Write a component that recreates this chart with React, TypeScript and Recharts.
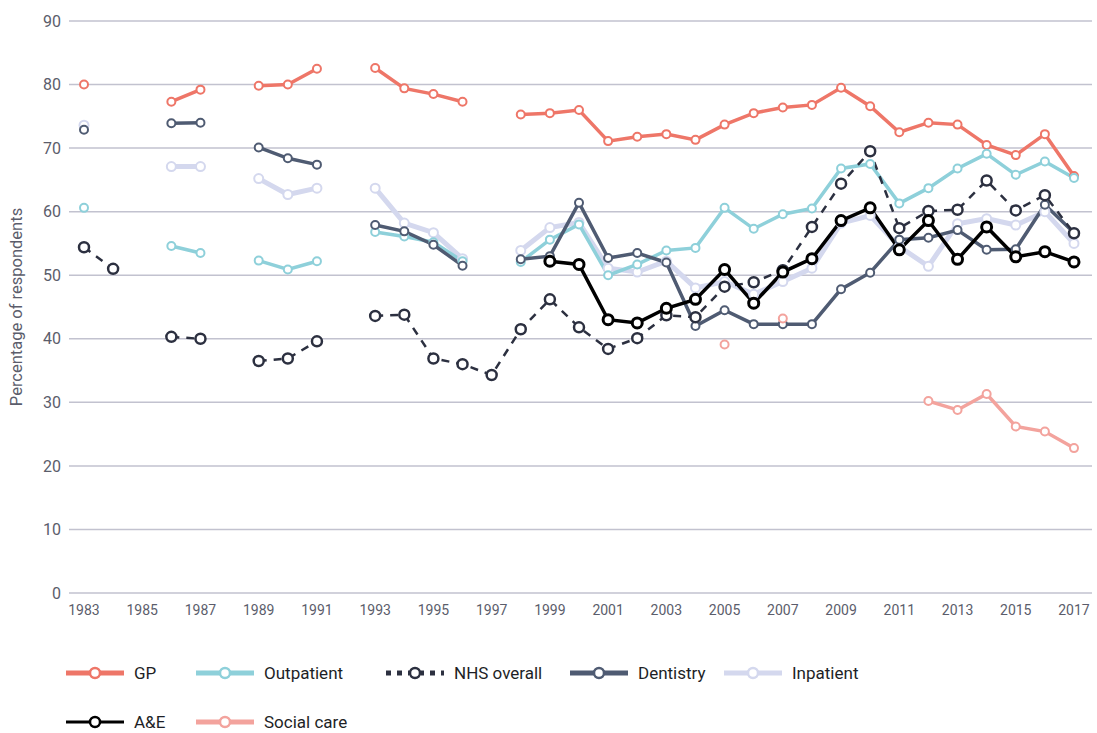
import React from "react";
import { CartesianGrid, Line, LineChart, XAxis, YAxis } from "recharts";

const years = [
  1983, 1984, 1985, 1986, 1987, 1988, 1989, 1990, 1991, 1992, 1993, 1994,
  1995, 1996, 1997, 1998, 1999, 2000, 2001, 2002, 2003, 2004, 2005, 2006,
  2007, 2008, 2009, 2010, 2011, 2012, 2013, 2014, 2015, 2016, 2017,
];

const gp = [
  80.0, null, null, 77.3, 79.2, null, 79.8, 80.0, 82.5, null, 82.6, 79.4,
  78.5, 77.3, null, 75.3, 75.5, 76.0, 71.1, 71.8, 72.2, 71.3, 73.7, 75.5,
  76.4, 76.8, 79.5, 76.6, 72.5, 74.0, 73.7, 70.5, 68.9, 72.2, 65.6,
];

const outpatient = [
  60.6, null, null, 54.6, 53.5, null, 52.3, 50.9, 52.2, null, 56.8, 56.1,
  55.2, 52.2, null, 52.1, 55.6, 58.0, 50.0, 51.7, 53.9, 54.3, 60.6, 57.3,
  59.6, 60.5, 66.8, 67.5, 61.3, 63.7, 66.8, 69.1, 65.8, 67.9, 65.3,
];

const nhsOverall = [
  54.4, 51.0, null, 40.3, 40.0, null, 36.5, 36.9, 39.6, null, 43.6, 43.8,
  36.9, 36.0, 34.3, 41.5, 46.2, 41.8, 38.4, 40.1, 43.7, 43.4, 48.2, 48.9,
  50.8, 57.6, 64.4, 69.5, 57.4, 60.1, 60.3, 64.9, 60.2, 62.6, 56.6,
];

const dentistry = [
  72.9, null, null, 73.9, 74.0, null, 70.1, 68.4, 67.4, null, 57.9, 56.9,
  54.8, 51.5, null, 52.5, 53.0, 61.4, 52.7, 53.5, 52.0, 42.0, 44.5, 42.3,
  42.3, 42.3, 47.8, 50.4, 55.6, 55.9, 57.1, 54.0, 54.1, 61.1, 56.7,
];

const inpatient = [
  73.6, null, null, 67.1, 67.1, null, 65.2, 62.7, 63.7, null, 63.7, 58.2,
  56.7, 52.6, null, 53.9, 57.5, 58.3, 51.1, 50.5, 52.2, 48.0, 49.0, 47.0,
  49.0, 51.1, 58.2, 59.4, 54.5, 51.4, 58.1, 58.9, 57.9, 60.0, 55.0,
];

const ae = [
  null, null, null, null, null, null, null, null, null, null, null, null,
  null, null, null, null, 52.2, 51.7, 43.0, 42.5, 44.8, 46.2, 50.9, 45.6,
  50.5, 52.6, 58.6, 60.6, 54.0, 58.6, 52.5, 57.6, 52.9, 53.7, 52.1,
];

const socialCare = [
  null, null, null, null, null, null, null, null, null, null, null, null,
  null, null, null, null, null, null, null, null, null, null, 39.1, null,
  43.2, null, null, null, null, 30.2, 28.8, 31.3, 26.2, 25.4, 22.8,
];

const xTicks = [
  1983, 1985, 1987, 1989, 1991, 1993, 1995, 1997, 1999, 2001, 2003, 2005,
  2007, 2009, 2011, 2013, 2015, 2017,
];
const yTicks = [0, 10, 20, 30, 40, 50, 60, 70, 80, 90];

const data = years.map((year, i) => ({
  year,
  gp: gp[i],
  outpatient: outpatient[i],
  nhs: nhsOverall[i],
  dentistry: dentistry[i],
  inpatient: inpatient[i],
  ae: ae[i],
  social: socialCare[i],
}));

const FONT = "Roboto, 'Noto Sans', sans-serif";

// draw order (back to front) differs from legend order
const series = [
  { key: "inpatient", name: "Inpatient", color: "#D4D8EE", width: 5, r: 4.5, dotWidth: 2 },
  { key: "gp", name: "GP", color: "#EE7668", width: 3.5, r: 4, dotWidth: 2 },
  { key: "outpatient", name: "Outpatient", color: "#8ED0DA", width: 3.5, r: 4, dotWidth: 2 },
  { key: "dentistry", name: "Dentistry", color: "#4F5B72", width: 3.5, r: 4, dotWidth: 2 },
  { key: "nhs", name: "NHS overall", color: "#2C3040", width: 2.5, r: 5, dotWidth: 2.5, dash: "8 7" },
  { key: "ae", name: "A&E", color: "#000000", width: 3.5, r: 5, dotWidth: 3 },
  { key: "social", name: "Social care", color: "#F3A39D", width: 3.5, r: 4, dotWidth: 2 },
];

const legendRows = [
  [
    { name: "GP", key: "gp", w: 130 },
    { name: "Outpatient", key: "outpatient", w: 190 },
    { name: "NHS overall", key: "nhs", w: 184 },
    { name: "Dentistry", key: "dentistry", w: 154 },
    { name: "Inpatient", key: "inpatient", w: 150 },
  ],
  [
    { name: "A&E", key: "ae", w: 130 },
    { name: "Social care", key: "social", w: 190 },
  ],
];

const makeDot = (s: any) => (props: any) => {
  const { cx, cy, value, index } = props;
  if (value == null || cy == null || isNaN(cy)) return <g key={`${s.key}-${index}`} />;
  return (
    <circle
      key={`${s.key}-${index}`}
      cx={cx}
      cy={cy}
      r={s.r}
      fill="#ffffff"
      stroke={s.color}
      strokeWidth={s.dotWidth}
    />
  );
};

const LegendIcon = ({ s }: any) => {
  const dashed = s.key === "nhs";
  return (
    <svg width={58} height={16} style={{ display: "block" }}>
      <line
        x1={0}
        y1={8}
        x2={58}
        y2={8}
        stroke={s.color}
        strokeWidth={s.key === "ae" ? 3 : 5}
        strokeDasharray={dashed ? "5 6" : undefined}
      />
      {dashed && <rect x={23} y={2} width={12} height={12} fill="#fff" />}
      <circle cx={29} cy={8} r={5} fill="#fff" stroke={s.color} strokeWidth={2.5} />
    </svg>
  );
};

export default function App() {
  return (
    <div style={{ position: "absolute", left: 0, top: 0, width: 1097, height: 733, background: "#fff" }}>
      <LineChart
        width={1097}
        height={640}
        data={data}
        margin={{ top: 21, right: 5, left: 0, bottom: 17 }}
      >
        <CartesianGrid vertical={false} stroke="#C2C2CF" strokeWidth={1.5} />
        <XAxis
          dataKey="year"
          type="number"
          domain={[1983, 2017]}
          ticks={xTicks}
          interval={0}
          padding={{ left: 15, right: 18 }}
          axisLine={false}
          tickLine={false}
          tickMargin={6}
          height={30}
          tick={{ fontSize: 14, fill: "#5B5D6B", fontFamily: FONT }}
        />
        <YAxis
          domain={[0, 90]}
          ticks={yTicks}
          width={69}
          axisLine={false}
          tickLine={false}
          tick={{ fontSize: 16, fill: "#5B5D6B", fontFamily: FONT }}
          label={{
            value: "Percentage of respondents",
            angle: -90,
            position: "insideLeft",
            offset: 16,
            style: { textAnchor: "middle", fontSize: 16.5, fill: "#5B5D6B", fontFamily: FONT },
          }}
        />
        {series.map((s) => (
          <Line
            key={s.key}
            dataKey={s.key}
            name={s.name}
            stroke={s.color}
            strokeWidth={s.width}
            strokeDasharray={s.dash}
            dot={makeDot(s)}
            activeDot={false}
            connectNulls={false}
            isAnimationActive={false}
          />
        ))}
      </LineChart>
      <div style={{ position: "absolute", left: 66, top: 660, fontFamily: FONT, fontSize: 17, color: "#1E1F26" }}>
        {legendRows.map((row, ri) => (
          <div key={ri} style={{ display: "flex", alignItems: "center", height: 26, marginBottom: ri === 0 ? 23 : 0 }}>
            {row.map((item) => {
              const s = series.find((x) => x.key === item.key);
              return (
                <div key={item.key} style={{ display: "flex", alignItems: "center", width: item.w }}>
                  <LegendIcon s={s} />
                  <span style={{ marginLeft: 10 }}>{item.name}</span>
                </div>
              );
            })}
          </div>
        ))}
      </div>
    </div>
  );
}
